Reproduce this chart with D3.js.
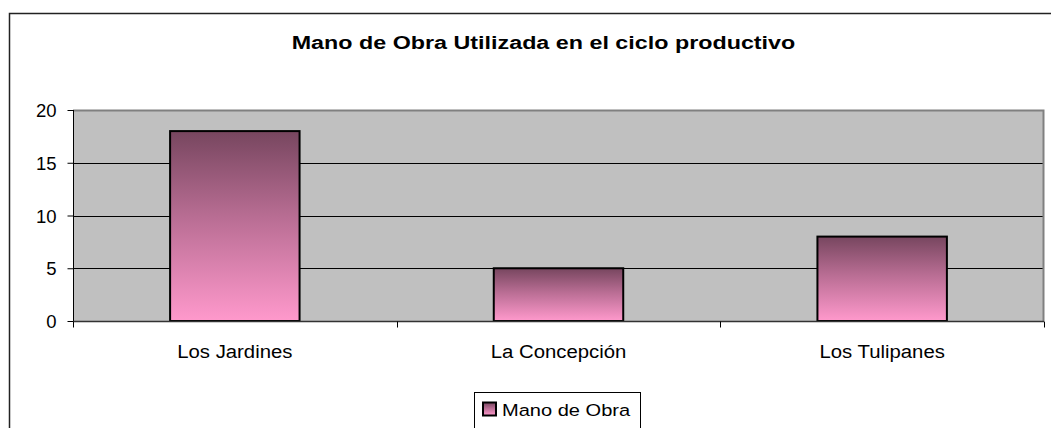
<!DOCTYPE html>
<html><head><meta charset="utf-8">
<script src="https://cdn.jsdelivr.net/npm/d3@7"></script>
<style>body{margin:0;background:#fff;}svg{display:block;font-family:"Liberation Sans",Arial,sans-serif;}</style>
</head><body>
<svg id="c" width="1051" height="428"></svg>
<script>
const categories = ["Los Jardines", "La Concepción", "Los Tulipanes"];
const values = [18, 5, 8];
const yTicks = [0, 5, 10, 15, 20];
const seriesName = "Mano de Obra";
const title = "Mano de Obra Utilizada en el ciclo productivo";

const svg = d3.select("#c");
const L = 73, R = 1044, T = 110, B = 321;

function stretchedText(parent, x, y, sx, txt, size, anchor, weight) {
  const g = parent.append("g").attr("transform", `translate(${x},${y}) scale(${sx},1)`);
  return g.append("text").attr("x", 0).attr("y", 0).attr("text-anchor", anchor || "start")
    .attr("font-size", size).attr("font-weight", weight || "normal").attr("fill", "#000").text(txt);
}

// outer chart frame
svg.append("rect").attr("x", 9.5).attr("y", 13.5).attr("width", 1100).attr("height", 500)
  .attr("fill", "#fff").attr("stroke", "#222").attr("stroke-width", 1.5);

const defs = svg.append("defs");
const g = defs.append("linearGradient").attr("id", "barGrad").attr("x1", 0).attr("y1", 0).attr("x2", 0).attr("y2", 1);
g.append("stop").attr("offset", "0%").attr("stop-color", "#77465f");
g.append("stop").attr("offset", "45%").attr("stop-color", "#b86d93");
g.append("stop").attr("offset", "100%").attr("stop-color", "#ff99cc");

const x = d3.scaleBand().domain(categories).range([L, R]).paddingInner(0.6).paddingOuter(0.3);
const xb = d3.scaleBand().domain(categories).range([L, R]);
const y = d3.scaleLinear().domain([0, 20]).range([B, T]);

// plot area
svg.append("rect").attr("x", L).attr("y", T).attr("width", R - L).attr("height", B - T).attr("fill", "#c0c0c0");

// gridlines
svg.append("g").selectAll("line").data(yTicks.filter(d => d > 0 && d < 20)).join("line")
  .attr("x1", L).attr("x2", R).attr("y1", d => Math.round(y(d)) + 0.5).attr("y2", d => Math.round(y(d)) + 0.5)
  .attr("stroke", "#000").attr("stroke-width", 1);

// plot border top/right gray
svg.append("path").attr("d", `M${L},${T + 0.5}H${R - 0.5}V${B}`).attr("fill", "none")
  .attr("stroke", "#808080").attr("stroke-width", 2);

// bars
svg.append("g").selectAll("rect").data(values).join("rect")
  .attr("x", (d, i) => x(categories[i]))
  .attr("y", d => y(d))
  .attr("width", x.bandwidth())
  .attr("height", d => B - y(d))
  .attr("fill", "url(#barGrad)").attr("stroke", "#000").attr("stroke-width", 2);

// y axis
const yAxis = d3.axisLeft(y).tickValues(yTicks).tickSize(6).tickPadding(11);
const ya = svg.append("g").attr("transform", `translate(${L + 0.5},0)`).call(yAxis);
ya.select(".domain").attr("stroke", "#000").attr("d", `M0,${T}V${B}`);
ya.selectAll(".tick line").attr("stroke", "#000");
ya.selectAll("text").attr("font-size", 18.5).attr("fill", "#000").attr("dy", "0.36em")
  .attr("font-family", "Liberation Sans, Arial, sans-serif");

// x axis
const xa = svg.append("g").attr("transform", `translate(0,${B + 0.5})`);
xa.append("line").attr("x1", L).attr("x2", R).attr("stroke", "#333").attr("stroke-width", 1.5);
const bounds = categories.map(c => xb(c)).concat([R]);
xa.selectAll("line.t").data(bounds).join("line").attr("class", "t")
  .attr("x1", d => Math.round(d) + 0.5).attr("x2", d => Math.round(d) + 0.5).attr("y1", 0).attr("y2", 6).attr("stroke", "#000");
categories.forEach(c => stretchedText(xa, xb(c) + xb.bandwidth() / 2, 36.5, 1.13, c, 18, "middle"));

// title
stretchedText(svg, 543.5, 49, 1.26, title, 18.5, "middle", "bold");

// legend
const lg = svg.append("g");
lg.append("rect").attr("x", 474.5).attr("y", 392.5).attr("width", 166).attr("height", 36)
  .attr("fill", "#fff").attr("stroke", "#000").attr("stroke-width", 1);
lg.append("rect").attr("x", 483).attr("y", 402.5).attr("width", 13).attr("height", 13)
  .attr("fill", "url(#barGrad)").attr("stroke", "#000").attr("stroke-width", 2);
stretchedText(lg, 502, 416, 1.18, seriesName, 17, "start");
</script>
</body></html>
